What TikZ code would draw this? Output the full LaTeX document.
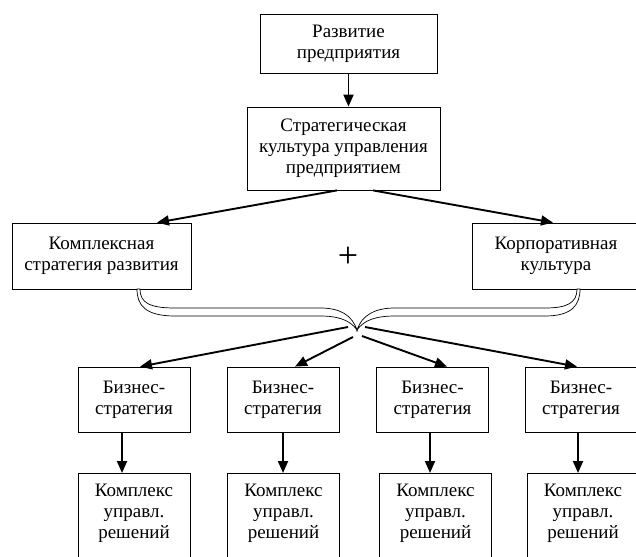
\documentclass[tikz,border=0pt]{standalone}
\usepackage{fontspec}
\setmainfont{Liberation Serif}
\usetikzlibrary{arrows.meta}
\begin{document}
\begin{tikzpicture}[x=1pt,y=-1pt,
  box/.style={draw, line width=0.8pt, align=center, inner sep=0pt, font=\fontsize{19}{21}\selectfont},
  bizbox/.style={box, minimum width=112pt, minimum height=65pt},
  kbox/.style={draw, line width=0.8pt, minimum width=112pt, minimum height=100pt, anchor=north, inner sep=0pt},
  ktext/.style={align=center, inner sep=0pt, anchor=north, font=\fontsize{19}{21}\selectfont},
  arr/.style={line width=1.9pt, -{Triangle[length=12pt,width=10pt]}},
  bracepart/.style={draw, line width=0.7pt, fill=white}]
\useasboundingbox (0,0) rectangle (636,556);
\clip (0,0) rectangle (636,556);

% upper part
\node[box, minimum width=177pt, minimum height=59pt] (top) at (348.5,43.5) {Развитие\\предприятия};
\node[box, minimum width=193pt, minimum height=83pt] (strat) at (343.5,148.5) {Стратегическая\\культура управления\\предприятием};
\node[box, minimum width=179pt, minimum height=66pt] (left) at (101.5,256) {Комплексная\\стратегия развития};
\node[box, minimum width=168pt, minimum height=66pt] (right) at (556,256) {Корпоративная\\культура};
\node[font=\fontsize{36}{36}\selectfont, inner sep=0pt] (plus) at (348,257) {+};

\draw[arr] (top.south) -- (top.south |- strat.north);
\draw[arr] ([xshift=-6.5pt]strat.south) -- ([xshift=55.5pt]left.north);
\draw[arr] ([xshift=29.5pt]strat.south) -- ([xshift=-3pt]right.north);

% brace
\coordinate (tip) at (357,330);
\draw[bracepart] (140,289) .. controls (140,303) and (150,308) .. (175,308) -- (320,308)
   .. controls (340,308) and (352,315) .. (tip)
   .. controls (350,320) and (338,316) .. (320,316) -- (175,316)
   .. controls (145,316) and (137,305) .. (137,289) -- cycle;
\draw[bracepart] (577,289) .. controls (577,303) and (567,308) .. (545,308) -- (395,308)
   .. controls (375,308) and (362,315) .. (tip)
   .. controls (364,320) and (376,316) .. (395,316) -- (545,316)
   .. controls (572,316) and (580,305) .. (580,289) -- cycle;

% business strategies
\node[bizbox] (b1) at (134,399.5) {Бизнес-\\стратегия};
\node[bizbox] (b2) at (283,399.5) {Бизнес-\\стратегия};
\node[bizbox] (b3) at (432.5,399.5) {Бизнес-\\стратегия};
\node[bizbox] (b4) at (581,399.5) {Бизнес-\\стратегия};

\coordinate (s1) at (348,327);
\coordinate (s2) at (353,337);
\coordinate (s3) at (362,336);
\coordinate (s4) at (365,327);
\draw[arr] (s1) -- ([xshift=6pt]b1.north);
\draw[arr] (s2) -- ([xshift=12pt]b2.north);
\draw[arr] (s3) -- ([xshift=14.5pt]b3.north);
\draw[arr] (s4) -- ([xshift=-4pt]b4.north);

% decision complexes
\node[kbox] (k1) at (134,473) {};
\node[kbox] (k2) at (283.5,473) {};
\node[kbox] (k3) at (435.5,473) {};
\node[kbox] (k4) at (583,473) {};
\node[ktext] (t1) at ([yshift=-10.5pt]k1.north) {Комплекс\\управл.\\решений};
\node[ktext] (t2) at ([yshift=-10.5pt]k2.north) {Комплекс\\управл.\\решений};
\node[ktext] (t3) at ([yshift=-10.5pt]k3.north) {Комплекс\\управл.\\решений};
\node[ktext] (t4) at ([yshift=-10.5pt]k4.north) {Комплекс\\управл.\\решений};

\draw[arr] ([xshift=-12pt]b1.south) -- ([xshift=-12pt]b1.south |- k1.north);
\draw[arr] (b2.south) -- (b2.south |- k2.north);
\draw[arr] ([xshift=-2.5pt]b3.south) -- ([xshift=-2.5pt]b3.south |- k3.north);
\draw[arr] ([xshift=-3pt]b4.south) -- ([xshift=-3pt]b4.south |- k4.north);
\end{tikzpicture}
\end{document}
